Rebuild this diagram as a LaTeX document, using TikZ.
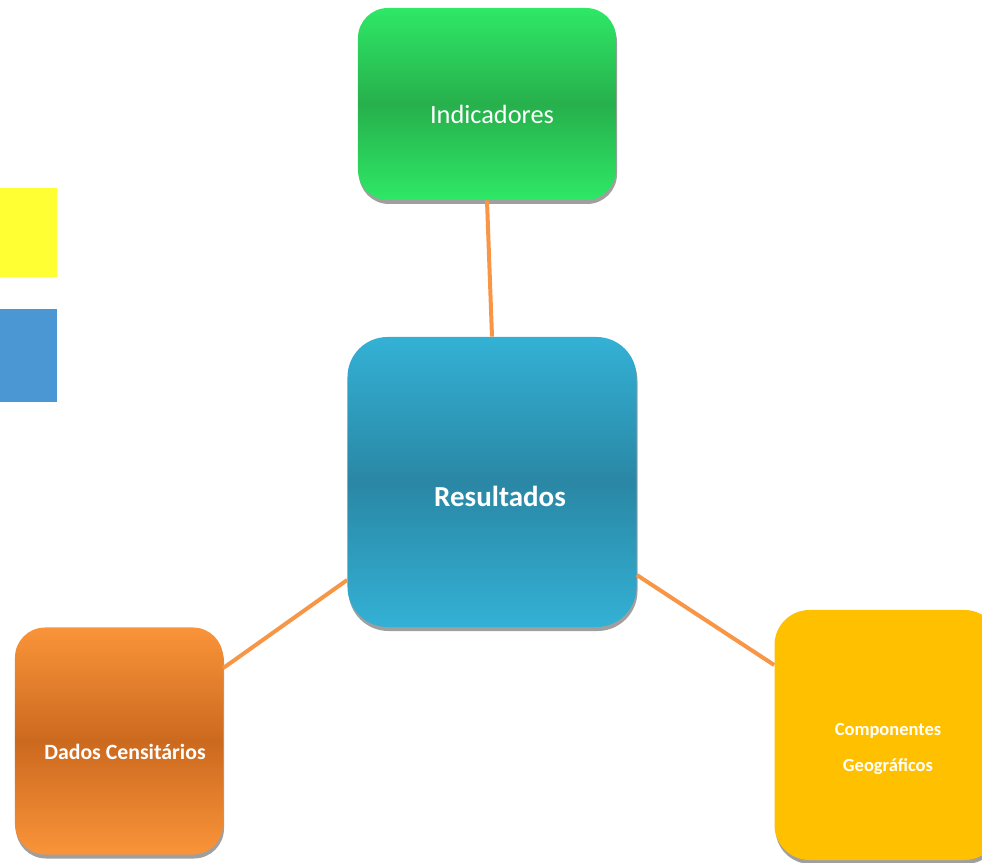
\documentclass[tikz,border=0pt]{standalone}
\usepackage{fontspec}
\setmainfont{Carlito}
\usepackage{tikz}
\usetikzlibrary{shadows}

\definecolor{lineorange}{HTML}{F79646}
\definecolor{greenlight}{HTML}{2EE866}
\definecolor{greendark}{HTML}{27B04C}
\definecolor{bluelight}{HTML}{33B1D5}
\definecolor{bluedark}{HTML}{2A87A5}
\definecolor{orangelight}{HTML}{FA943A}
\definecolor{orangedark}{HTML}{CB691E}
\definecolor{goldfill}{HTML}{FFC000}
\definecolor{legendyellow}{HTML}{FFFF33}
\definecolor{legendblue}{HTML}{4A97D3}

\begin{document}
\begin{tikzpicture}[
  x=0.2mm, y=-0.2mm,
  card/.style={rounded corners=#1,
    drop shadow={shadow xshift=0.2mm, shadow yshift=-0.8mm, fill=gray!75, opacity=1}},
  card/.default=6mm,
  cardtext/.style={text=white, align=center, font=#1},
  link/.style={draw=lineorange, line width=0.8mm},
]
\useasboundingbox (0,0) rectangle (982,863);
\clip (0,0) rectangle (982,863);

% legend squares
\fill[legendyellow] (0,188) rectangle (57,277);
\fill[legendblue] (0,309) rectangle (57,402);

\node[card=6mm, top color=greenlight, bottom color=greenlight, middle color=greendark,
  minimum width=51.6mm, minimum height=38.4mm,
  label={[cardtext=\fontsize{15}{18}\selectfont, xshift=1mm, yshift=-2mm]center:Indicadores}] (ind) at (487,104) {};
\node[card=8mm, top color=bluelight, bottom color=bluelight, middle color=bluedark,
  minimum width=57.8mm, minimum height=58mm,
  label={[cardtext=\fontsize{16.5}{20}\selectfont\bfseries, xshift=1.6mm, yshift=-2.8mm]center:Resultados}] (res) at (492,482) {};
\node[card=6mm, top color=orangelight, bottom color=orangelight, middle color=orangedark,
  minimum width=41.6mm, minimum height=45.4mm,
  label={[cardtext=\fontsize{12.4}{15}\selectfont\bfseries, xshift=1.2mm, yshift=-2.2mm]center:Dados Censitários}] (dados) at (119,741) {};
\node[card=7mm, fill=goldfill,
  minimum width=45mm, minimum height=50mm,
  label={[cardtext=\fontsize{10.5}{20}\selectfont\bfseries, xshift=0.2mm, yshift=-2.8mm]center:{Componentes\\Geográficos}}] (comp) at (887,735) {};

\draw[link] (ind.south) -- (res.north);
\draw[link] ([yshift=-19.6mm]res.west) -- ([yshift=14.6mm]dados.east);
\draw[link] ([yshift=-18.6mm]res.east) -- ([yshift=14mm]comp.west);
\end{tikzpicture}
\end{document}
